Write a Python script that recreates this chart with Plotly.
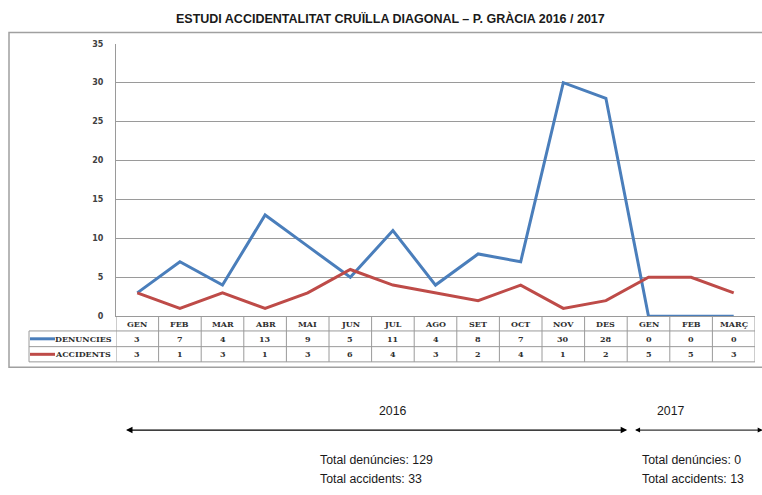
import plotly.graph_objects as go

months = ["GEN", "FEB", "MAR", "ABR", "MAI", "JUN", "JUL", "AGO", "SET", "OCT", "NOV", "DES", "GEN", "FEB", "MARÇ"]
denuncies = [3, 7, 4, 13, 9, 5, 11, 4, 8, 7, 30, 28, 0, 0, 0]
accidents = [3, 1, 3, 1, 3, 6, 4, 3, 2, 4, 1, 2, 5, 5, 3]
y_ticks = [0, 5, 10, 15, 20, 25, 30, 35]
series_names = ["DENUNCIES", "ACCIDENTS"]
title_text = "ESTUDI ACCIDENTALITAT CRUÏLLA DIAGONAL – P. GRÀCIA 2016 / 2017"
year_labels = ["2016", "2017"]
totals_2016 = ["Total denúncies: 129", "Total accidents: 33"]
totals_2017 = ["Total denúncies: 0", "Total accidents: 13"]

W, H = 762, 495
BLUE = "#4A7EBB"
RED = "#BE4B48"
GRID = "#9a9a9a"

def px(x):
    return x / W

def py(y):
    return (H - y) / H

x_idx = list(range(len(months)))

fig = go.Figure()
fig.add_trace(go.Scatter(x=x_idx, y=denuncies, mode="lines", name=series_names[0],
                         line=dict(color=BLUE, width=3), cliponaxis=False))
fig.add_trace(go.Scatter(x=x_idx, y=accidents, mode="lines", name=series_names[1],
                         line=dict(color=RED, width=3), cliponaxis=False))

shapes = []
annotations = []

# outer border
shapes.append(dict(type="rect", xref="paper", yref="paper", x0=px(9), x1=px(775), y0=py(370), y1=py(29),
                   line=dict(color="#a0a0a0", width=1.5)))

# table horizontal lines
for yy, x0 in [(333, 29), (349, 29), (364.5, 29)]:
    shapes.append(dict(type="line", xref="paper", yref="paper", x0=px(x0), x1=px(755), y0=py(yy), y1=py(yy),
                       line=dict(color=GRID, width=1)))
# left border of legend column
shapes.append(dict(type="line", xref="paper", yref="paper", x0=px(29), x1=px(29), y0=py(333), y1=py(364.5),
                   line=dict(color=GRID, width=1)))
# vertical category boundaries
for i in range(len(months) + 1):
    shapes.append(dict(type="line", xref="x", yref="paper", x0=i - 0.5, x1=i - 0.5, y0=py(318), y1=py(364.5),
                       line=dict(color=GRID, width=1)))

TFONT = dict(family="DejaVu Serif", size=8, color="#303030", weight="bold")
# table text
for i, m in enumerate(months):
    annotations.append(dict(x=i, y=py(325.5), xref="x", yref="paper", text=m, showarrow=False,
                            font=TFONT, yanchor="middle"))
    annotations.append(dict(x=i, y=py(341), xref="x", yref="paper", text=str(denuncies[i]), showarrow=False,
                            font=TFONT, yanchor="middle"))
    annotations.append(dict(x=i, y=py(356.8), xref="x", yref="paper", text=str(accidents[i]), showarrow=False,
                            font=TFONT, yanchor="middle"))

# legend cells
for name, col, yy in [(series_names[0], BLUE, 341), (series_names[1], RED, 356.8)]:
    shapes.append(dict(type="line", xref="paper", yref="paper", x0=px(30), x1=px(55), y0=py(yy), y1=py(yy),
                       line=dict(color=col, width=3)))
    annotations.append(dict(x=px(53), y=py(yy), xref="paper", yref="paper", text=name, showarrow=False,
                            xanchor="left", yanchor="middle", font=TFONT))

SFONT = dict(family="Liberation Sans", size=12.3, color="#1a1a1a")
# title
annotations.append(dict(x=px(390.5), y=py(14.5), xref="paper", yref="paper", text="<b>" + title_text + "</b>",
                        showarrow=False, xanchor="center", yanchor="middle",
                        font=dict(family="Liberation Sans", size=12.5, color="#1a1a1a")))

# year arrows
annotations.append(dict(x=11.5, y=py(434), xref="x", yref="paper", ax=-0.3, ay=0, axref="x", ayref="pixel",
                        text="", showarrow=True, arrowhead=2, startarrowhead=2, arrowside="end+start",
                        arrowsize=1, arrowwidth=1.3, arrowcolor="#000000"))
annotations.append(dict(x=14.68, y=py(434), xref="x", yref="paper", ax=11.65, ay=0, axref="x", ayref="pixel",
                        text="", showarrow=True, arrowhead=2, startarrowhead=2, arrowside="end+start",
                        arrowsize=1, arrowwidth=1.0, arrowcolor="#000000"))
annotations.append(dict(x=px(393), y=py(415), xref="paper", yref="paper", text=year_labels[0], showarrow=False,
                        yanchor="middle", font=SFONT))
annotations.append(dict(x=px(687), y=py(415), xref="paper", yref="paper", text=year_labels[1], showarrow=False,
                        yanchor="middle", font=SFONT))
for k, (t1, t2) in enumerate(zip(totals_2016, totals_2017)):
    yy = 464 + 20 * k
    annotations.append(dict(x=px(318), y=py(yy), xref="paper", yref="paper", text=t1, showarrow=False,
                            xanchor="left", yanchor="middle", font=SFONT))
    annotations.append(dict(x=px(640), y=py(yy), xref="paper", yref="paper", text=t2, showarrow=False,
                            xanchor="left", yanchor="middle", font=SFONT))

fig.update_layout(
    width=W, height=H,
    margin=dict(l=0, r=0, t=0, b=0),
    paper_bgcolor="white", plot_bgcolor="white",
    showlegend=False,
    shapes=shapes,
    annotations=annotations,
    xaxis=dict(domain=[px(116), px(755)], range=[-0.5, len(months) - 0.5], showticklabels=False,
               showgrid=False, zeroline=False, showline=True, linecolor=GRID, linewidth=1, ticks="",
               fixedrange=True),
    yaxis=dict(domain=[py(318), py(40.5)], range=[0, 35], tickvals=y_ticks,
               showgrid=True, gridcolor=GRID, gridwidth=1, zeroline=False,
               showline=True, linecolor=GRID, linewidth=1, ticks="",
               ticklabelstandoff=10,
               tickfont=dict(family="DejaVu Sans", size=8, color="#404040", weight="bold"),
               fixedrange=True),
)

fig.write_html("out.html", config={"displayModeBar": False},
               post_script="document.body.style.margin='0';document.body.style.overflow='hidden';")
